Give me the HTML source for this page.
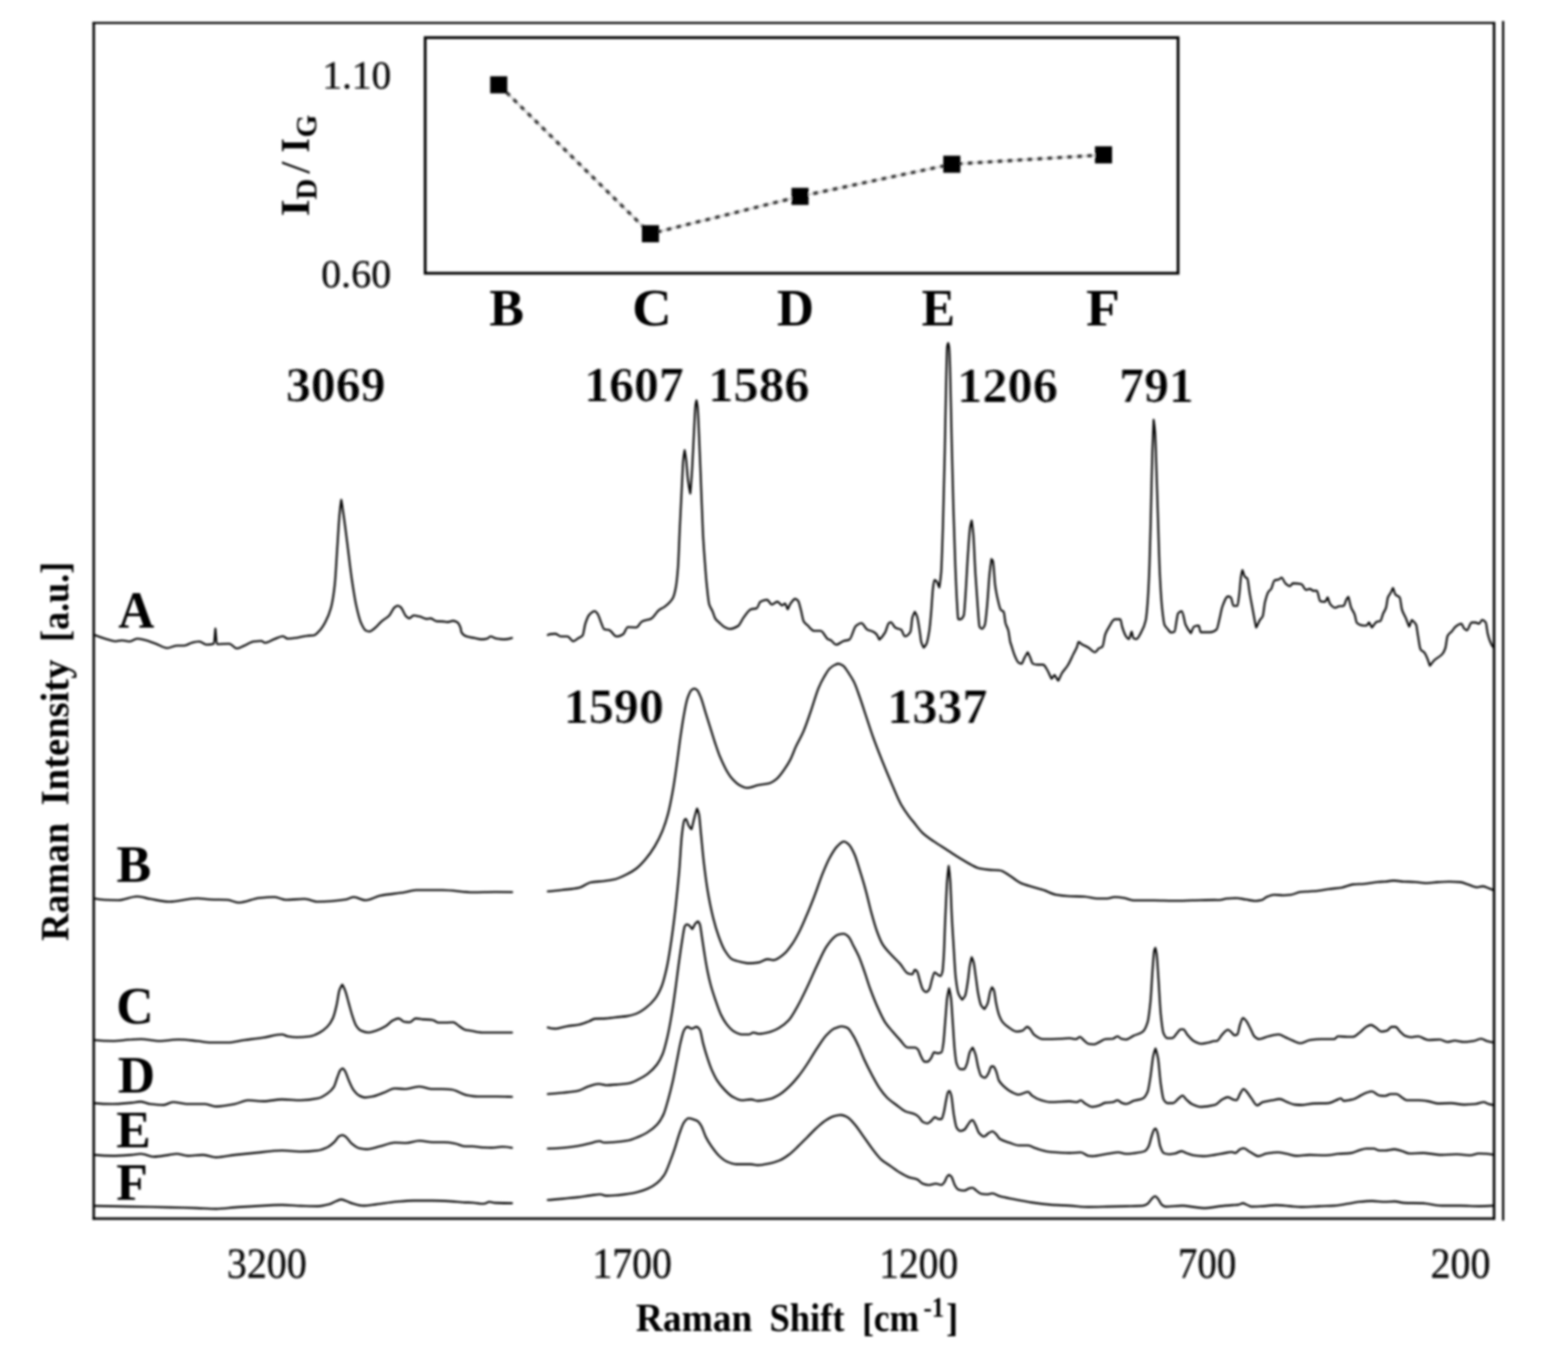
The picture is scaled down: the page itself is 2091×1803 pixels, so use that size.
<!DOCTYPE html>
<html lang="en"><head><meta charset="utf-8"><title>Raman spectra</title>
<style>html,body{margin:0;padding:0;background:#fff}body{width:2091px;height:1803px;overflow:hidden}svg{display:block;font-family:"Liberation Serif","DejaVu Serif",serif}.c{fill:none;stroke:#000;stroke-width:2.6;stroke-linejoin:round;stroke-linecap:round}.ax{fill:none;stroke:#060606}.dt{fill:none;stroke:#3c3c3c;stroke-width:4.4;stroke-dasharray:7.2 6.1}.t{font-weight:bold;fill:#000}.b{font-weight:bold;fill:#000;stroke:#fff;stroke-width:0.2}.n{fill:#111;stroke:#111;stroke-width:0.5}</style></head><body>
<svg width="2091" height="1803" viewBox="0 0 2091 1803" role="img" aria-label="Raman spectra of samples A to F with inset of ID/IG ratio">
<defs><filter id="bl" x="-2%" y="-2%" width="104%" height="104%"><feGaussianBlur stdDeviation="1.35"/></filter></defs>
<rect width="2091" height="1803" fill="#fff"/>
<g filter="url(#bl)">
<g class="ax">
<path d="M125 29.4V1626.8" stroke-width="3.3"/>
<path d="M123.4 30.6H1994" stroke-width="2.8"/>
<path d="M123.4 1625.1H1994" stroke-width="3.3"/>
<path d="M1992.4 29.4V1626.8" stroke-width="3.4"/>
<path d="M2004.5 28V1627.8" stroke="#000" stroke-width="2.9"/>
<rect x="567" y="50.2" width="1004" height="314.2" stroke-width="3.7"/>
</g>
<path d="M665.1 113.1L867.4 311.7L1066.9 261.9L1269.3 219L1471.6 206.5" fill="none" stroke="#ddd" stroke-width="3"/>
<g class="dt">
<path d="M665.1 113.1L867.4 311.7" stroke-dashoffset="-0.6"/>
<path d="M867.4 311.7L1066.9 261.9" stroke-dashoffset="-8.6"/>
<path d="M1066.9 261.9L1269.3 219" stroke-dashoffset="-4.3"/>
<path d="M1269.3 219L1471.6 206.5" stroke-dashoffset="-7.5"/>
</g>
<rect x="653.7" y="101.7" width="22.8" height="22.8" fill="#000"/>
<rect x="856.0" y="300.3" width="22.8" height="22.8" fill="#000"/>
<rect x="1055.5" y="250.5" width="22.8" height="22.8" fill="#000"/>
<rect x="1257.9" y="207.6" width="22.8" height="22.8" fill="#000"/>
<rect x="1460.2" y="195.1" width="22.8" height="22.8" fill="#000"/>
<g class="c">
<path d="M126.1 846.7C130.8 848.6 135.5 850.3 140.2 851.7C144.8 853.1 149.4 855.2 154 855.2C156.9 855.2 159.8 854 162.7 854C166.1 854 169.4 855.5 172.8 855.5C176.1 855.5 179.5 851.7 182.8 851.7C186.2 851.7 189.5 852.7 192.9 853.5C197.9 854.6 202.9 856.7 207.9 858.5C212.9 860.3 218 864.3 223 864.3C227.2 864.3 231.3 861 235.5 861C238.9 861 242.2 861 245.6 861C248.9 861 252.3 858 255.6 857.2C258.9 856.4 262.3 855.5 265.6 855.5C269 855.5 272.3 859.7 275.7 859.7C278.9 859.7 282 859.5 285.2 858.5C285.9 858.3 286.6 843.4 287.2 838.4C287.9 843.6 288.6 859 289.2 859C294.7 859 300.3 858.5 305.8 858.5C309.1 858.5 312.5 864.8 315.8 864.8C319.2 864.8 322.5 862.4 325.9 861C330.1 859.3 334.2 856 338.4 855.5C341.8 855.1 345.1 854.7 348.5 854.7C350.1 854.7 351.8 857.2 353.5 857.2C357.7 857.2 361.8 853.7 366 852.2C369.8 850.9 373.6 848.5 377.3 848.5C379.4 848.5 381.5 851.7 383.6 851.7C387.8 851.7 392 851 396.1 850.5C400.3 849.9 404.5 848.4 408.7 848C412 847.6 415.4 847.7 418.7 847.2C421.2 846.8 423.7 843.6 426.3 840.9C428.8 838.2 431.3 834.3 433.8 829.6C436.3 824.9 438.8 819.9 441.3 810.8C443 804.7 444.7 795.2 446.3 780.7C447.6 769.8 448.8 744.1 450.1 725.5C450.9 713.1 451.8 696.9 452.6 687.8C453.4 678.8 454.3 671.8 455.1 666.5C456 670.6 456.8 677 457.6 682.8C459.3 694.4 461 707.5 462.6 720.5C464.7 736.6 466.8 756.3 468.9 770.7C471 785 473.1 798.9 475.2 808.3C477.3 817.7 479.4 826.3 481.5 830.9C483.6 835.5 485.6 840 487.7 840.9C489.4 841.6 491.1 842.2 492.8 842.2C494.9 842.2 496.9 840 499 838.4C502.4 836 505.7 831.2 509.1 828.4C512.4 825.5 515.8 824.2 519.1 820.8C521.6 818.3 524.1 811.2 526.6 809.6C527.9 808.7 529.2 807.8 530.4 807.8C531.7 807.8 532.9 808.7 534.2 809.6C536.7 811.3 539.2 819.8 541.7 822.1C543 823.2 544.2 824.6 545.5 824.6C547.6 824.6 549.6 820.8 551.7 820.8C554.2 820.8 556.8 821.6 559.3 822.1C562.6 822.8 566 825.4 569.3 825.4C571 825.4 572.7 824.6 574.3 824.6C576.8 824.6 579.3 828.1 581.9 828.4C585.2 828.7 588.5 828.6 591.9 828.9C593.6 829 595.2 829.6 596.9 829.6C599.4 829.6 601.9 827.9 604.4 827.9C606.1 827.9 607.8 828.7 609.5 829.6C611.1 830.6 612.8 832.8 614.5 838.4C614.7 839.1 614.9 842.2 615.1 842.6C617.6 847.4 620.1 848 622.6 848.8C625.9 850 629.3 850.2 632.6 850.8C636 851.5 639.3 852.6 642.7 852.6C645.2 852.6 647.7 852.1 650.2 851.4C651.4 851 652.7 848.8 654 848.8C656.5 848.8 659 850.9 661.5 851.4C665.3 852 669 852.6 672.8 852.6C676.1 852.6 679.5 851.9 682.8 850.8"/>
<path d="M730.5 846.8C733.8 845.1 737.2 845.1 740.5 845.1C743.1 845.1 745.6 848.8 748.1 848.8C751 848.8 753.9 848.8 756.9 848.8C759.4 848.8 761.9 855.1 764.4 855.1C766.5 855.1 768.6 852.6 770.7 851.4C772.7 850.1 774.8 849.9 776.9 847.6C778.2 846.2 779.4 835 780.7 831.3C782.4 826.2 784 821.8 785.7 820C788.2 817.3 790.7 815 793.2 815C794.5 815 795.8 817 797 818.7C798.7 821.1 800.4 827.4 802 831.3C803.3 834.2 804.5 839 805.8 839.3C807.9 839.8 810 839.6 812.1 840.1C815.4 840.7 818.8 848.8 822.1 848.8C825 848.8 828 847.5 830.9 845.8C833 844.6 835.1 836.3 837.2 836.3C840.9 836.3 844.7 836.8 848.5 836.8C851 836.8 853.5 830 856 828.8C860.2 826.7 864.4 827 868.5 825C871.9 823.4 875.2 816.3 878.6 813.7C881.1 811.8 883.6 811.1 886.1 809.2C889.9 806.4 893.6 804.1 897.4 797.4C898.6 795.1 899.9 790.3 901.2 783.6C902.2 778.2 903.2 769.1 904.2 756C905 745 905.8 718.3 906.7 700.8C907.5 683.2 908.4 666.8 909.2 650.6C909.9 637.6 910.5 619.8 911.2 612.9C911.8 606.9 912.4 603.5 913 600.4C913.6 603.5 914.3 607.7 915 612.9C915.8 619.5 916.6 634.1 917.5 640.5C918.5 648.3 919.5 653.7 920.5 658.1C921.3 650 922.2 638.7 923 625.5C923.8 612.3 924.7 590.9 925.5 575.3C926.2 562.8 926.8 545.1 927.5 540.2C927.9 537 928.3 535.4 928.8 533.9C929.3 536.1 929.8 538.3 930.3 542.7C931 549.2 931.8 571.1 932.5 587.8C933.4 606.4 934.2 629.7 935 650.6C935.9 671.5 936.7 697.6 937.5 713.3C938.4 729 939.2 739.8 940.1 751C940.9 762.1 941.7 773.2 942.6 781.1C943.7 791.4 944.7 802.6 945.8 806.2C947.3 810.9 948.7 811.6 950.1 815C951.4 817.9 952.6 823.1 953.9 825C955.5 827.5 957.2 828.5 958.9 830C961.4 832.3 963.9 835 966.4 836.3C968.5 837.4 970.6 838.8 972.7 838.8C976.4 838.8 980.2 837.2 984 835C986.5 833.6 989 827 991.5 823.7C994.9 819.4 998.2 813.4 1001.5 812.5C1004.1 811.7 1006.6 812 1009.1 811.2C1010.7 810.7 1012.4 803.3 1014.1 802.4C1017 800.9 1019.9 799.9 1022.9 799.9C1025 799.9 1027.1 806.2 1029.2 806.2C1031.7 806.2 1034.2 802.4 1036.7 802.4C1038.8 802.4 1040.9 807.4 1043 807.4C1044.2 807.4 1045.5 804.9 1046.7 804.9C1048 804.9 1049.2 810.6 1050.5 812.5C1051.7 810.6 1053 806.6 1054.2 804.9C1056.3 802.1 1058.4 798.6 1060.5 798.6C1061.8 798.6 1063 799.8 1064.3 801.2C1065.5 802.6 1066.8 809.1 1068.1 813.7C1069.3 818.3 1070.6 826.7 1071.8 828.8C1073.5 831.5 1075.2 832.2 1076.8 833.8C1079.8 836.5 1082.7 841.3 1085.6 841.3C1088.5 841.3 1091.5 841.3 1094.4 841.3C1097.7 841.3 1101.1 851.2 1104.4 852.6C1105.5 853.1 1106.5 853.1 1107.5 853.5C1110 854.6 1112.5 859.8 1115.1 859.8C1118.4 859.8 1121.8 855.8 1125.1 854.8C1127.6 854 1130.1 854.1 1132.6 853C1135.6 851.8 1138.5 837 1141.4 834.7C1143.9 832.7 1146.4 831 1148.9 831C1151.4 831 1154 838.4 1156.5 839.7C1159 841 1161.5 841.1 1164 842.3C1165.7 843 1167.3 844.2 1169 846C1170.3 847.4 1171.5 851.3 1172.8 853C1175.3 850.7 1177.8 847.8 1180.3 843.5C1182 840.6 1183.7 832.3 1185.3 831C1186.2 830.3 1187 829.7 1187.8 829.7C1189.9 829.7 1192 836.1 1194.1 837.2C1196.6 838.6 1199.1 838.3 1201.6 839.7C1203.3 840.7 1205 848.5 1206.7 848.5C1209.2 848.5 1211.7 846.6 1214.2 842.3C1215 840.8 1215.9 826.5 1216.7 823.4C1217.8 819.5 1218.9 817.8 1220 815.9C1221 817.5 1222 819.2 1223 822.2C1224.2 825.9 1225.5 835.5 1226.7 843.5C1227.3 847.3 1227.9 853.9 1228.5 856.1C1229.6 860.1 1230.7 861.7 1231.8 863.6C1233 862.3 1234.3 861.2 1235.5 858.6C1236.8 856 1238 849.2 1239.3 841C1240.1 835.5 1241 825.4 1241.8 815.9C1242.6 806.4 1243.5 789.2 1244.3 783.3C1245 778.5 1245.6 773.2 1246.3 773.2C1247.3 773.2 1248.3 774.5 1249.3 775.7C1250.4 777.1 1251.5 781.4 1252.6 783.3C1253.4 778.3 1254.3 773.6 1255.1 763.2C1255.8 753.8 1256.6 727 1257.4 703C1258.2 676.3 1259 639.9 1259.9 602.6C1260.5 572.7 1261.2 527.9 1261.9 502.2C1262.3 486.1 1262.7 464.7 1263.1 462C1263.5 459.3 1264 458.7 1264.4 457.5C1264.8 458.7 1265.2 459.5 1265.6 462C1266.1 464.6 1266.5 477.7 1266.9 489.6C1267.6 508.8 1268.2 549.5 1268.9 577.5C1269.7 612.5 1270.6 649.2 1271.4 677.9C1272.2 706.6 1273.1 731.9 1273.9 753.2C1274.7 772.3 1275.4 791.2 1276.2 803.4C1276.8 812.8 1277.3 825.9 1277.9 825.9C1278.9 825.9 1279.8 825.9 1280.7 825.9C1282.2 825.9 1283.7 824.2 1285.2 820.9C1286 819.1 1286.9 802.4 1287.7 790.8C1288.7 776.9 1289.7 755 1290.7 740.6C1291.7 726.3 1292.7 709.3 1293.7 703C1294.4 698.8 1295.1 696.4 1295.8 694.2C1296.4 698.3 1297.1 703.1 1297.8 710.5C1298.8 721.5 1299.8 749.7 1300.8 765.7C1301.8 781.8 1302.8 796 1303.8 808.4C1304.6 818.7 1305.5 834.7 1306.3 836C1307.4 837.6 1308.5 838.5 1309.6 838.5C1310.8 838.5 1312.1 836.4 1313.3 833.5C1314.3 831.1 1315.3 818.6 1316.3 808.4C1317.4 797.3 1318.5 776.4 1319.6 765.7C1320.4 757.5 1321.3 750.6 1322.1 745.6C1322.8 746.3 1323.4 746.7 1324.1 748.1C1325.1 750.3 1326.1 773.5 1327.1 780.8C1328.4 789.8 1329.6 795.7 1330.9 800.8C1332.1 806 1333.4 812 1334.7 813.4C1335.9 814.8 1337.2 814.3 1338.4 815.9C1339.3 817 1340.1 827.8 1340.9 831C1342.2 835.7 1343.4 836.2 1344.7 841C1345.5 844.2 1346.4 852.7 1347.2 856.1C1347.6 857.7 1348 858.7 1348.5 860C1350.1 865.2 1351.8 871.4 1353.5 875.1C1355.1 878.8 1356.8 882.9 1358.5 883.8C1359.7 884.5 1361 885.1 1362.3 885.1C1363.5 885.1 1364.8 879.9 1366 877.6C1367.5 874.8 1369 871.9 1370.5 870C1371.5 871.6 1372.5 874.1 1373.6 876.3C1374.8 879.1 1376.1 884.6 1377.3 885.1C1379.4 885.9 1381.5 886.4 1383.6 886.4C1386.1 886.4 1388.6 886.4 1391.1 886.4C1392.8 886.4 1394.5 890.1 1396.1 892.6C1398.2 895.8 1400.3 902 1402.4 905.2C1403.7 903.9 1404.9 901.4 1406.2 900.2C1407.9 902 1409.5 905.8 1411.2 907.7C1412.9 905.2 1414.5 900.4 1416.2 897.6C1418.7 893.6 1421.2 891.6 1423.7 887.6C1426.3 883.6 1428.8 877.6 1431.3 872.5C1432.9 869.2 1434.6 866.8 1436.3 862.5C1437 860.8 1437.6 856.1 1438.3 856.1C1439.7 856.1 1441.1 858.2 1442.6 859.1C1445.5 860.8 1448.4 861.8 1451.4 863.6C1454.3 865.3 1457.2 869.9 1460.1 869.9C1461.8 869.9 1463.5 866 1465.2 864.8C1466.8 863.7 1468.5 863.9 1470.2 862.3C1471.4 861.2 1472.7 849.5 1473.9 846C1475.6 841.4 1477.3 838.7 1479 836C1481.5 831.9 1484 825.9 1486.5 825.9C1489 825.9 1491.5 825.9 1494 825.9C1494.9 825.9 1495.7 833.3 1496.5 836C1498.2 841.3 1499.9 846.2 1501.5 848.5C1502.8 850.3 1504.1 852.3 1505.3 852.3C1506.6 852.3 1507.8 844.8 1509.1 842.3C1509.9 844.4 1510.7 850.5 1511.6 851C1512.8 851.8 1514.1 852.3 1515.3 852.3C1517.4 852.3 1519.5 847.3 1521.6 843.5C1523.7 839.7 1525.8 836.5 1527.9 827.2C1528.7 823.5 1529.6 814.1 1530.4 803.4C1531.2 792.6 1532.1 775.2 1532.9 753.2C1533.6 735.5 1534.3 704.7 1534.9 677.9C1535.5 654.4 1536.1 620.7 1536.7 602.6C1537.3 584.4 1537.9 570.6 1538.4 559.9C1539.1 564.3 1539.8 568.4 1540.4 577.5C1541 585.4 1541.6 610.2 1542.2 627.7C1542.9 647.6 1543.5 669.9 1544.2 690.4C1545 716 1545.9 748.8 1546.7 765.7C1547.7 786 1548.7 801.3 1549.7 810.9C1550.8 821.2 1551.9 831 1553 833.5C1554.2 836.3 1555.5 837 1556.8 838.5C1558.4 840.4 1560.1 843.5 1561.8 843.5C1563.3 843.5 1564.8 843.1 1566.3 842.3C1567.3 841.7 1568.3 830.9 1569.3 825.9C1569.9 823.1 1570.4 818.7 1571 818C1572.7 816 1574.3 815 1576 815C1577.7 815 1579.4 829.3 1581 833.1C1583.4 838.4 1585.7 841.6 1588.1 844.4C1589.5 842.2 1590.9 836.1 1592.3 835.6C1594.4 834.8 1596.5 834.3 1598.6 834.3C1599.4 834.3 1600.3 843.1 1601.1 843.1C1605.3 843.1 1609.5 843.1 1613.7 843.1C1616.6 843.1 1619.5 841.9 1622.4 839.4C1623.7 838.3 1625 830.5 1626.2 825.6C1627.5 820.6 1628.7 812.6 1630 809.2C1632.5 802.5 1635 795.4 1637.5 795.4C1638.8 795.4 1640 795.9 1641.3 796.7C1642.5 797.4 1643.8 808 1645 808C1646.7 808 1648.4 808 1650.1 808C1650.9 808 1651.7 799.2 1652.6 792.9C1653.4 786.7 1654.2 772.7 1655.1 767.8C1655.7 764.4 1656.2 762.2 1656.8 760.3C1657.9 762.5 1659 767.8 1660.1 769.1C1661.2 770.4 1662.3 770.1 1663.4 771.6C1664.4 773 1665.4 784.6 1666.4 790.4C1667.6 797.7 1668.9 803.9 1670.1 810.5C1671.8 819.4 1673.5 830.3 1675.2 836.8C1676.8 834.3 1678.5 829.5 1680.2 826.8C1681.4 824.8 1682.7 824.6 1683.9 821.8C1684.9 819.5 1685.9 807.2 1686.9 803C1688.5 796.6 1690 791.4 1691.5 789.2C1692.7 787.3 1694 787.2 1695.2 785.4C1696.6 783.4 1698.1 774.7 1699.5 774.1C1701.4 773.3 1703.3 773.5 1705.3 772.8C1706.5 772.4 1707.8 770.3 1709 770.3C1710.7 770.3 1712.4 776.4 1714.1 777.9C1716.1 779.7 1718.2 781.6 1720.3 781.6C1721.6 781.6 1722.8 777.9 1724.1 777.9C1727.9 777.9 1731.6 778.3 1735.4 779.1C1737.5 779.6 1739.6 786.7 1741.7 786.7C1743.3 786.7 1745 785.4 1746.7 785.4C1748.3 785.4 1750 787.9 1751.7 787.9C1753.2 787.9 1754.7 787.9 1756.2 787.9C1757.6 787.9 1759.1 801.4 1760.5 801.7C1762.6 802.2 1764.7 802.5 1766.8 802.5C1768 802.5 1769.3 798.1 1770.5 796.7C1771.6 798.9 1772.7 804.1 1773.8 805.5C1776 808.3 1778.3 810.5 1780.6 810.5C1782.2 810.5 1783.9 808.7 1785.6 808.5C1787.7 808.2 1789.8 808.3 1791.8 808C1793.1 807.8 1794.4 801.3 1795.6 799.2C1796.5 797.8 1797.3 796.8 1798.1 795.9C1799.4 799.6 1800.6 807.2 1801.9 810.5C1803.4 814.4 1804.9 815.3 1806.4 819.3C1807.4 821.9 1808.4 829.7 1809.4 830.6C1812.3 833.2 1815.3 834.3 1818.2 834.3C1819.5 834.3 1820.7 834.3 1822 834.3C1823.2 834.3 1824.5 831.1 1825.7 830.1C1827 831.8 1828.2 835.2 1829.5 836.8C1831.6 835 1833.7 830.2 1835.8 829.3C1837.4 828.6 1839.1 828.9 1840.8 828.1C1842 827.5 1843.3 820.9 1844.6 818C1845.8 815.2 1847.1 814.3 1848.3 810.5C1849.2 808 1850 798.9 1850.8 796.7C1852.1 793.4 1853.3 792.8 1854.6 790.4C1855.6 788.6 1856.6 785.7 1857.6 784.1C1858.7 786.3 1859.8 791.7 1860.9 792.9C1862.8 795.1 1864.7 794.3 1866.6 796.7C1867.6 798 1868.6 809.7 1869.6 813C1871.3 818.5 1873 820.3 1874.7 824.3C1876.2 827.9 1877.7 832.8 1879.2 835.6C1880.4 833.4 1881.5 829 1882.7 826.8C1884.6 828.4 1886.5 829.2 1888.5 833.1C1889.3 834.8 1890.1 843.4 1891 848.1C1892.1 854.3 1893.2 863.9 1894.2 865.7C1896.1 868.8 1897.9 868.4 1899.8 870.7C1901 872.3 1902.3 875.3 1903.5 878.3C1904.6 880.8 1905.7 885.4 1906.8 887.8C1908.6 886 1910.5 882.6 1912.3 880.8C1916.1 877 1919.8 876.5 1923.6 872C1924.9 870.5 1926.1 868.2 1927.4 864.5C1928.4 861.5 1929.4 850.1 1930.4 848.1C1932.3 844.4 1934.2 844.1 1936.2 841.9C1937.8 839.9 1939.5 836.8 1941.2 835.6C1943.7 833.7 1946.2 831.8 1948.7 831.8C1950 831.8 1951.2 836.9 1952.5 838.1C1953.7 839.3 1955 840.6 1956.2 840.6C1958.3 840.6 1960.4 830.1 1962.5 830.1C1964.2 830.1 1965.9 830.1 1967.5 830.1C1969.2 830.1 1970.9 831.8 1972.5 831.8C1973.8 831.8 1975.1 826.8 1976.3 826.8C1978 826.8 1979.7 827.9 1981.3 830.1C1982.2 831.1 1983 840.7 1983.8 844.4C1984.7 848 1985.5 851 1986.3 853.2C1988 857.6 1989.7 861.5 1991.4 863.2"/>
<path d="M126.1 1198.3C136.6 1200.5 147.2 1200.5 157.7 1200.5C166.1 1200.5 174.5 1195.5 182.8 1195.5C188.7 1195.5 194.5 1197.8 200.4 1198.8C208.8 1200.2 217.1 1202.5 225.5 1202.5C238 1202.5 250.6 1198 263.1 1198C269 1198 274.8 1199.3 280.7 1199.5C288.2 1199.8 295.8 1199.7 303.3 1200C308.3 1200.3 313.3 1203.8 318.3 1203.8C327.5 1203.8 336.7 1198.4 345.9 1197.5C352.6 1196.9 359.3 1196.3 366 1196.3C371 1196.3 376.1 1200 381.1 1200C389.4 1200 397.8 1198.8 406.2 1198.8C412 1198.8 417.9 1202.5 423.7 1202.5C436.3 1202.5 448.8 1201.4 461.4 1199.5C464.7 1199.1 468.1 1196.3 471.4 1196.3C476.9 1196.3 482.3 1200.5 487.7 1200.5C494 1200.5 500.3 1195.8 506.6 1194.5C517.4 1192.3 528.3 1191.8 539.2 1190C544.5 1189.1 549.7 1187 555 1187C566.9 1187 578.7 1187 590.6 1187C604.1 1187 617.5 1190 631 1190C640.7 1190 650.3 1189.5 660 1189.5C667.7 1189.5 675.3 1189.5 683 1189.7"/>
<path d="M730.6 1188.8C737.1 1188.2 743.7 1187.5 750.2 1186.8C757.7 1185.9 765.3 1185.4 772.8 1183.7C777.8 1182.7 782.8 1177.6 787.8 1176.7C793.7 1175.7 799.5 1175.7 805.4 1175C810.4 1174.3 815.4 1173.6 820.5 1172.5C825.5 1171.3 830.5 1168.7 835.5 1166.2C839.7 1164.1 843.9 1161.8 848.1 1158.6C852.3 1155.5 856.4 1151 860.6 1146.1C864.8 1141.2 869 1135.5 873.2 1128.5C876.5 1123 879.9 1116.6 883.2 1108.5C885.7 1102.4 888.2 1095.2 890.7 1085.9C892.8 1078.1 894.9 1067.4 897 1055.8C898.7 1046.5 900.4 1034.8 902 1023.1C903.7 1011.5 905.4 997.1 907 985.5C908.7 973.8 910.4 961.8 912.1 952.9C913.7 944 915.4 934.9 917.1 930.3C918.8 925.6 920.4 921.6 922.1 920.2C923.4 919.2 924.6 918.2 925.9 918.2C927.1 918.2 928.4 919.2 929.6 920.2C931.3 921.6 933 926.2 934.7 930.3C936.7 935.4 938.8 943.7 940.9 950.3C943 957 945.1 963.7 947.2 970.4C949.3 977.1 951.4 984.3 953.5 990.5C955.6 996.7 957.7 1003 959.7 1008.1C962.7 1015.2 965.6 1021.7 968.5 1026.9C971 1031.3 973.6 1035.4 976.1 1038.2C979.4 1041.9 982.8 1045.2 986.1 1047C989.4 1048.7 992.8 1050.7 996.1 1050.7C1001.2 1050.7 1006.2 1048 1011.2 1047C1016.2 1046 1021.2 1045.8 1026.3 1044.5C1029.6 1043.5 1032.9 1041 1036.3 1038.2C1039.6 1035.4 1043 1030.5 1046.3 1025.6C1048.8 1022 1051.4 1018 1053.9 1013.1C1056.4 1008.2 1058.9 1000.9 1061.4 995.5C1064.7 988.3 1068.1 983.2 1071.4 975.4C1074.8 967.7 1078.1 957.4 1081.5 947.8C1084.8 938.2 1088.2 925.7 1091.5 917.7C1094 911.8 1096.5 907 1099 902.7C1101.5 898.4 1104.1 893.7 1106.6 891.4C1109.1 889.1 1111.6 887.4 1114.1 886.4C1115.3 885.8 1116.6 885.1 1117.9 885.1C1119.9 885.1 1122 886.3 1124.1 887.6C1126.6 889.1 1129.2 893.9 1131.7 897.6C1134.2 901.4 1136.7 905 1139.2 910.2C1141.7 915.3 1144.2 923.2 1146.7 930.3C1149.2 937.4 1151.7 945.3 1154.2 952.9C1157.6 962.9 1160.9 973.6 1164.3 983C1168.5 994.7 1172.7 1005.2 1176.8 1015.6C1181 1026 1185.2 1036.1 1189.4 1045.7C1193.6 1055.3 1197.7 1065.9 1201.9 1073.3C1205.3 1079.2 1208.6 1083.8 1212 1088.4C1214 1091.1 1216 1093.5 1218 1095.9C1222.1 1101.1 1226.3 1107.1 1230.5 1111C1235.5 1115.6 1240.5 1118.8 1245.6 1122.3C1251.4 1126.3 1257.3 1129.8 1263.1 1133.6C1269 1137.3 1274.8 1141.3 1280.7 1144.8C1285.7 1147.9 1290.7 1151.1 1295.8 1153.6C1299.1 1155.3 1302.4 1157.4 1305.8 1158.1C1310 1159.1 1314.2 1159.6 1318.3 1159.9C1323.4 1160.3 1328.4 1160.2 1333.4 1160.7C1337.6 1161 1341.8 1164.9 1345.9 1167.4C1351 1170.4 1356 1175.2 1361 1177.5C1366 1179.7 1371 1181 1376.1 1182.5C1381.1 1184 1386.1 1185.1 1391.1 1186.8C1397 1188.6 1402.8 1192.3 1408.7 1193.3C1413.7 1194.2 1418.7 1194.8 1423.7 1195C1431.3 1195.4 1438.8 1195.4 1446.3 1195.8C1452.2 1196.1 1458 1198.3 1463.9 1198.3C1468.1 1198.3 1472.3 1198.3 1476.4 1198.3C1479.8 1198.3 1483.1 1196.3 1486.5 1196.3C1490.7 1196.3 1494.9 1196.9 1499 1197.5C1503.2 1198.2 1507.4 1200.8 1511.6 1200.8C1520.8 1200.8 1530 1200.8 1539.2 1200.8C1547.6 1200.8 1555.9 1201.3 1564.3 1201.3C1572.7 1201.3 1581 1201 1589.4 1200.8C1599.6 1200.6 1609.8 1200.1 1620 1200.1C1622.1 1200.1 1624.1 1200.3 1626.2 1200.3C1629.6 1200.3 1632.9 1198.5 1636.3 1198.3C1640.4 1198 1644.6 1197.8 1648.8 1197.8C1653 1197.8 1657.2 1198.9 1661.3 1199.5C1665.5 1200.1 1669.7 1201.5 1673.9 1201.5C1676.8 1201.5 1679.8 1201 1682.7 1200.3C1684.8 1199.8 1686.9 1197.1 1689 1196.3C1692.3 1194.8 1695.6 1193.2 1699 1193.2C1703.2 1193.2 1707.4 1194 1711.5 1194C1714.9 1194 1718.2 1193.6 1721.6 1193.2C1725.8 1192.8 1729.9 1189.9 1734.1 1189.5C1738.3 1189.1 1742.5 1189 1746.7 1188.7C1750.9 1188.4 1755 1188.2 1759.2 1187.7C1763.4 1187.3 1767.6 1186.3 1771.8 1185.7C1777.6 1184.9 1783.5 1184.7 1789.3 1183.7C1794.4 1182.9 1799.4 1179.9 1804.4 1179.4C1809.4 1179 1814.4 1179.1 1819.5 1178.7C1825.3 1178.3 1831.2 1176.6 1837 1176.2C1840.4 1175.9 1843.7 1175.9 1847.1 1175.7C1850.8 1175.4 1854.6 1174.4 1858.4 1174.4C1863 1174.4 1867.6 1175.4 1872.2 1175.7C1877.2 1175.9 1882.2 1175.9 1887.2 1176.2C1892.2 1176.4 1897.3 1177.7 1902.3 1177.7C1907.3 1177.7 1912.3 1176.7 1917.3 1176.4C1922.4 1176.1 1927.4 1175.7 1932.4 1175.7C1937.4 1175.7 1942.4 1176 1947.4 1176.4C1950.8 1176.7 1954.1 1178.4 1957.5 1179.4C1961.7 1180.7 1965.9 1183.2 1970 1183.2C1972.5 1183.2 1975.1 1181.9 1977.6 1181.9C1980.1 1181.9 1982.6 1183.5 1985.1 1184.5C1987.2 1185.2 1989.3 1186.1 1991.4 1187"/>
<path d="M126.1 1387C134.1 1387.9 142.2 1388.3 150.2 1388.3C158.6 1388.3 166.9 1386.7 175.3 1386.3C179.5 1386 183.7 1385.8 187.8 1385.8C196.2 1385.8 204.6 1388.3 212.9 1388.3C221.3 1388.3 229.7 1386.3 238 1386.3C246.4 1386.3 254.8 1387.5 263.1 1388.3C269 1388.8 274.8 1390.3 280.7 1390.3C288.2 1390.3 295.8 1390.3 303.3 1390.3C310.8 1390.3 318.3 1388 325.9 1387C334.2 1385.9 342.6 1385 351 1383.7C359.3 1382.5 367.7 1379.5 376.1 1379.5C378.6 1379.5 381.1 1381.6 383.6 1382C387.8 1382.7 392 1383.2 396.1 1383.2C402 1383.2 407.9 1382.7 413.7 1382C417.9 1381.5 422.1 1379.2 426.3 1377C429.6 1375.2 432.9 1372.8 436.3 1369.4C438.8 1366.9 441.3 1363.6 443.8 1358.1C445.5 1354.5 447.2 1347.7 448.8 1340.6C450.1 1335.2 451.4 1324.2 452.6 1320.5C453.9 1316.9 455.1 1314.9 456.4 1313C457.6 1314.9 458.9 1317.3 460.1 1320.5C461.8 1324.7 463.5 1332.2 465.2 1338.1C466.8 1343.9 468.5 1350.8 470.2 1355.6C471.8 1360.5 473.5 1365.8 475.2 1368.2C477.3 1371.2 479.4 1373.6 481.5 1374.5C484.8 1375.9 488.2 1377 491.5 1377C494.9 1377 498.2 1375.5 501.5 1374.5C505.7 1373.1 509.9 1371.2 514.1 1368.7C517.4 1366.7 520.8 1362.2 524.1 1360.7C526.6 1359.5 529.2 1358.1 531.7 1358.1C534.2 1358.1 536.7 1362.4 539.2 1362.7C541.7 1363 544.2 1363.2 546.7 1363.2C549.2 1363.2 551.7 1358.1 554.2 1358.1C557.6 1358.1 560.9 1359.1 564.3 1359.4C568.5 1359.7 572.7 1359.7 576.8 1360.2C579.3 1360.4 581.9 1363.7 584.4 1363.7C587.7 1363.7 591.1 1363.7 594.4 1363.7C597.7 1363.7 601.1 1363.2 604.4 1363.2C606.9 1363.2 609.5 1366.6 612 1368.2C614.6 1369.9 617.3 1372.5 620 1373.2C622.5 1373.9 625.1 1374 627.6 1374.5C632.6 1375.3 637.6 1377 642.7 1377C649.4 1377 656 1377 662.7 1377C669.4 1377 676.1 1377 682.8 1377"/>
<path d="M730.5 1370.2C733.8 1371.3 737.2 1371.9 740.5 1371.9C745.6 1371.9 750.6 1369.6 755.6 1368.7C761.5 1367.7 767.3 1367.4 773.2 1366.2C777.3 1365.3 781.5 1363.5 785.7 1361.9C788.2 1360.9 790.7 1358.8 793.2 1358.6C798.3 1358.3 803.3 1358.4 808.3 1358.1C814.2 1357.8 820 1356.8 825.9 1356.1C829.2 1355.8 832.6 1355.6 835.9 1355.1C840.1 1354.5 844.3 1353.4 848.5 1351.9C852.6 1350.4 856.8 1347.5 861 1344.3C865.2 1341.2 869.4 1337.3 873.6 1331.8C876.5 1327.9 879.4 1322.8 882.3 1315.5C884.4 1310.3 886.5 1302.1 888.6 1292.9C890.3 1285.6 892 1275.8 893.6 1265.3C896 1250.3 898.4 1232 900.8 1211.4C902.4 1196.8 904.1 1180.4 905.8 1161.2C907 1146.7 908.3 1120.5 909.6 1111C910.6 1102.7 911.7 1094.7 912.8 1093.4C913.4 1092.7 914 1092.1 914.6 1092.1C915.8 1092.1 917.1 1098.8 918.3 1100.9C919.6 1103.1 920.8 1104.7 922.1 1105.9C923.4 1102.2 924.6 1095.5 925.9 1090.9C927.1 1086.3 928.4 1081.5 929.6 1078.3C930.5 1080.2 931.3 1082 932.1 1085.9C933 1089.7 933.8 1102.6 934.7 1111C935.9 1123.5 937.2 1137.8 938.4 1148.6C940.1 1163 941.8 1176.1 943.4 1186.3C945.9 1201.5 948.5 1213.9 951 1223.9C953.5 1233.9 956 1242.1 958.5 1249C961 1255.9 963.5 1262.4 966 1266.6C969.4 1272.1 972.7 1277.5 976.1 1279.1C980.2 1281.2 984.4 1282 988.6 1282.9C992 1283.6 995.3 1284.6 998.6 1284.6C1002.8 1284.6 1007 1284.2 1011.2 1283.6C1015.4 1283.1 1019.6 1279.1 1023.7 1279.1C1026.3 1279.1 1028.8 1280.4 1031.3 1280.4C1036.3 1280.4 1041.3 1275.7 1046.3 1271.6C1049.7 1268.9 1053 1263.9 1056.4 1259C1059.7 1254.2 1063.1 1248.1 1066.4 1241.5C1069.8 1234.9 1073.1 1226.8 1076.4 1218.9C1079.8 1211 1083.1 1202.5 1086.5 1193.8C1089.8 1185 1093.2 1174.5 1096.5 1166.2C1099.9 1157.9 1103.2 1149.6 1106.6 1143.6C1109.9 1137.6 1113.3 1131.7 1116.6 1128.5C1119.5 1125.7 1122.5 1122.3 1125.4 1122.3C1127.5 1122.3 1129.6 1124.2 1131.7 1126C1134.2 1128.2 1136.7 1133.2 1139.2 1138.6C1141.7 1143.9 1144.2 1153.2 1146.7 1161.2C1149.2 1169.1 1151.7 1177.1 1154.2 1186.3C1156.8 1195.4 1159.3 1207.2 1161.8 1216.4C1164.3 1225.5 1166.8 1234.6 1169.3 1241.5C1171.8 1248.4 1174.3 1254.9 1176.8 1259C1181 1265.8 1185.2 1269.5 1189.4 1274.1C1193.1 1278.1 1196.7 1281.2 1200.4 1285.4C1203.7 1289.1 1207.1 1296.8 1210.4 1297.9C1212.5 1298.6 1214.6 1299.2 1216.7 1299.2C1217.8 1299.2 1218.9 1293.4 1220 1293.4C1221 1293.4 1222 1294.3 1223 1295.4C1224.2 1296.8 1225.5 1304 1226.7 1308C1228 1311.9 1229.2 1317.6 1230.5 1319.2C1232 1321.2 1233.5 1323 1235 1323C1236.4 1323 1237.9 1321.3 1239.3 1319.2C1240.5 1317.4 1241.8 1309.3 1243.1 1305.4C1244.1 1302.1 1245.2 1296.7 1246.3 1296.7C1247.7 1296.7 1249.2 1299.1 1250.6 1299.9C1251.8 1300.6 1253.1 1301.7 1254.3 1301.7C1255.2 1301.7 1256 1299 1256.9 1295.4C1257.4 1292.9 1258 1283.6 1258.6 1274.1C1259.3 1263.2 1259.9 1238.8 1260.6 1223.9C1261.5 1205.2 1262.3 1184.2 1263.1 1173.7C1263.8 1165.3 1264.5 1159.6 1265.1 1154.9C1265.8 1159.6 1266.5 1165 1267.1 1173.7C1267.9 1183.6 1268.6 1209.6 1269.4 1223.9C1270.2 1239.8 1271.1 1252.1 1271.9 1265.3C1272.7 1278.4 1273.6 1295.6 1274.4 1302.9C1275.7 1314 1276.9 1322.4 1278.2 1325.5C1279.9 1329.7 1281.5 1331.2 1283.2 1333.1C1284.5 1331.8 1285.7 1330.7 1287 1328C1288.2 1325.4 1289.5 1316.1 1290.7 1308C1291.6 1302.5 1292.4 1292.7 1293.2 1287.9C1294.1 1283.1 1294.9 1279.4 1295.8 1276.6C1296.6 1278.2 1297.4 1279.9 1298.3 1282.9C1299.3 1286.5 1300.3 1296.1 1301.3 1302.9C1302.4 1310.3 1303.4 1320 1304.5 1325.5C1305.8 1331.9 1307 1338.4 1308.3 1340.6C1309.8 1343.2 1311.3 1344.3 1312.8 1345.6C1314.2 1343.7 1315.7 1341.8 1317.1 1338.1C1318.2 1335.2 1319.3 1326.5 1320.3 1323C1321.2 1320.3 1322 1318.3 1322.9 1316.7C1323.7 1317.7 1324.5 1318.5 1325.4 1320.5C1326.4 1322.9 1327.4 1333.3 1328.4 1338.1C1329.6 1344.1 1330.9 1349.7 1332.1 1353.1C1333.8 1357.7 1335.5 1361.1 1337.2 1363.2C1340.1 1366.8 1343 1368.8 1345.9 1370.7C1349.3 1372.8 1352.6 1375.7 1356 1375.7C1358.5 1375.7 1361 1375.2 1363.5 1374.5C1365.6 1373.9 1367.7 1369.4 1369.8 1369.4C1371 1369.4 1372.3 1370.8 1373.6 1371.9C1375.2 1373.5 1376.9 1378.1 1378.6 1379.5C1382.8 1382.9 1386.9 1385.8 1391.1 1385.8C1398.6 1385.8 1406.2 1385.5 1413.7 1385.3C1417.9 1385.1 1422.1 1384.5 1426.3 1384.5C1429.2 1384.5 1432.1 1385.8 1435 1385.8C1436.7 1385.8 1438.4 1382.7 1440.1 1382.7C1441.7 1382.7 1443.4 1385.6 1445.1 1387C1447.2 1388.7 1449.3 1391.6 1451.4 1392C1453.9 1392.5 1456.4 1392.8 1458.9 1392.8C1461.4 1392.8 1463.9 1390.7 1466.4 1389.5C1468.9 1388.4 1471.4 1386 1473.9 1385.8C1477.3 1385.4 1480.6 1385.6 1484 1385.3C1486.1 1385 1488.2 1382 1490.3 1382C1491.9 1382 1493.6 1384.8 1495.3 1385.3C1497.4 1385.8 1499.5 1386.3 1501.5 1386.3C1504.9 1386.3 1508.2 1382.8 1511.6 1381.2C1515.8 1379.3 1519.9 1379 1524.1 1375.7C1526.2 1374.1 1528.3 1370.1 1530.4 1363.2C1531.7 1359 1532.9 1348.1 1534.2 1335.6C1535.2 1325.5 1536.2 1303.2 1537.2 1290.4C1537.9 1281.9 1538.5 1270.5 1539.2 1267.8C1539.7 1265.8 1540.2 1265 1540.7 1264C1541.3 1266.2 1541.9 1268.6 1542.5 1272.8C1543.2 1278.2 1544 1292.2 1544.7 1302.9C1545.8 1318.4 1546.9 1342.9 1548 1353.1C1549.2 1364.9 1550.5 1375.5 1551.7 1378.2C1553.4 1381.9 1555.1 1384.5 1556.8 1384.5C1558.8 1384.5 1560.9 1384.5 1563 1384.5C1565.1 1384.5 1567.2 1380.4 1569.3 1378.2C1571 1376.5 1572.7 1372.7 1574.3 1372.7C1575.6 1372.7 1576.8 1372.7 1578.1 1372.7C1579.8 1372.7 1581.4 1377.5 1583.1 1379.5C1586 1382.9 1589 1386.6 1591.9 1388.3C1595.2 1390.1 1598.6 1392 1601.9 1392C1605.3 1392 1608.6 1391 1612 1390.3C1614.6 1389.7 1617.3 1388.3 1620 1388.3C1620.8 1388.3 1621.6 1388.3 1622.4 1388.3C1625 1388.3 1627.5 1381.9 1630 1379.5C1632.5 1377 1635 1373.2 1637.5 1373.2C1639.2 1373.2 1640.9 1375.5 1642.5 1377C1643.8 1378.1 1645 1380.7 1646.3 1380.7C1647.5 1380.7 1648.8 1380.2 1650.1 1379.5C1651.3 1378.7 1652.6 1369.1 1653.8 1365.7C1655.1 1362.3 1656.3 1357.6 1657.6 1357.6C1658.8 1357.6 1660.1 1359.3 1661.3 1360.7C1663.4 1362.9 1665.5 1368 1667.6 1371.9C1669.3 1375.1 1671 1380.4 1672.6 1382C1674.7 1384 1676.8 1385.8 1678.9 1385.8C1683.1 1385.8 1687.3 1382.9 1691.5 1382C1696.1 1380.9 1700.7 1379.5 1705.3 1379.5C1708.2 1379.5 1711.1 1382 1714.1 1383.2C1717.4 1384.7 1720.7 1386.4 1724.1 1387.8C1727.4 1389.1 1730.8 1391.3 1734.1 1391.3C1738.3 1391.3 1742.5 1387.6 1746.7 1387C1751.7 1386.3 1756.7 1385.8 1761.7 1385.8C1767.6 1385.8 1773.4 1385.8 1779.3 1385.8C1781 1385.8 1782.6 1382 1784.3 1382C1788.5 1382 1792.7 1382.7 1796.9 1382.7C1799.4 1382.7 1801.9 1382.7 1804.4 1382.7C1807.3 1382.7 1810.3 1379.1 1813.2 1377C1816.1 1374.8 1819 1371 1822 1369.4C1824.1 1368.3 1826.1 1366.9 1828.2 1366.9C1830.3 1366.9 1832.4 1368.9 1834.5 1370.2C1837 1371.7 1839.5 1375.7 1842 1375.7C1844.6 1375.7 1847.1 1375.2 1849.6 1374.5C1851.7 1373.9 1853.8 1369.4 1855.8 1369.4C1857.5 1369.4 1859.2 1369.4 1860.9 1369.4C1863 1369.4 1865 1373.8 1867.1 1375.7C1869.2 1377.7 1871.3 1380.5 1873.4 1381.2C1876.3 1382.3 1879.3 1383.2 1882.2 1383.2C1885.1 1383.2 1888.1 1382 1891 1382C1895.6 1382 1900.2 1387 1904.8 1387C1909.8 1387 1914.8 1386.3 1919.8 1386.3C1923.2 1386.3 1926.5 1389.5 1929.9 1389.5C1933.2 1389.5 1936.6 1387.8 1939.9 1387.8C1944.1 1387.8 1948.3 1389.5 1952.5 1389.5C1956.6 1389.5 1960.8 1388.9 1965 1388.3C1968.4 1387.8 1971.7 1385.3 1975.1 1385.3C1977.6 1385.3 1980.1 1387.5 1982.6 1388.3C1985.5 1389.1 1988.4 1389.9 1991.4 1390.3"/>
<path d="M126.1 1471.1C134.1 1472 142.2 1472.3 150.2 1472.3C158.6 1472.3 166.9 1471.3 175.3 1470.6C179.5 1470.2 183.7 1469.1 187.8 1469.1C192 1469.1 196.2 1471.9 200.4 1472.3C206.2 1473 212.1 1473.6 218 1473.6C222.1 1473.6 226.3 1469.8 230.5 1469.8C237.2 1469.8 243.9 1472.3 250.6 1472.3C258.1 1472.3 265.6 1472.3 273.2 1472.3C278.2 1472.3 283.2 1475.6 288.2 1475.6C296.6 1475.6 305 1473.9 313.3 1472.3C319.2 1471.3 325 1467.3 330.9 1467.3C337.6 1467.3 344.3 1468.6 351 1468.6C359.3 1468.6 367.7 1466.1 376.1 1466.1C384.4 1466.1 392.8 1467.3 401.2 1467.3C408.7 1467.3 416.2 1466.3 423.7 1464.8C427.9 1464 432.1 1461.4 436.3 1458.5C439.2 1456.5 442.1 1454.2 445.1 1449.7C446.8 1447.2 448.4 1440.2 450.1 1435.9C451.4 1432.8 452.6 1428.7 453.9 1427.2C454.9 1426 455.9 1424.7 456.9 1424.7C458 1424.7 459 1426.7 460.1 1428.4C461.8 1431 463.5 1437.2 465.2 1441C467.2 1445.6 469.3 1450.7 471.4 1453.5C473.9 1456.9 476.4 1459.8 479 1461C481.5 1462.3 484 1463.6 486.5 1463.6C489.8 1463.6 493.2 1462.9 496.5 1462.3C501.5 1461.4 506.6 1459.1 511.6 1457.3C516.6 1455.5 521.6 1451.5 526.6 1451.5C530.8 1451.5 535 1452.3 539.2 1452.3C545.9 1452.3 552.6 1449 559.3 1449C565.1 1449 571 1452.3 576.8 1452.3C581 1452.3 585.2 1452.3 589.4 1452.3C593.6 1452.3 597.7 1452.6 601.9 1453C608 1453.6 614 1457.9 620 1459.8C620.9 1460.1 621.7 1460.4 622.6 1460.5C627.6 1461.5 632.6 1462.3 637.6 1462.3C646 1462.3 654.4 1462.3 662.7 1462.3C669.4 1462.3 676.1 1462.6 682.8 1462.8"/>
<path d="M730.5 1459C737.2 1458.6 743.9 1458 750.6 1457.3C757.3 1456.6 764 1456.1 770.7 1454.8C775.7 1453.8 780.7 1450 785.7 1448.5C789.9 1447.2 794.1 1445.5 798.3 1445.5C801.6 1445.5 805 1447.2 808.3 1447.2C814.2 1447.2 820 1446.5 825.9 1446C830.1 1445.6 834.2 1445.4 838.4 1444.7C842.6 1444.1 846.8 1441.7 851 1439.7C855.1 1437.7 859.3 1435.3 863.5 1432.2C867.7 1429 871.9 1425.2 876.1 1419.6C878.6 1416.3 881.1 1412 883.6 1405.8C885.7 1400.7 887.8 1392.1 889.9 1383.2C892 1374.3 894 1363.2 896.1 1350.6C897.8 1340.6 899.5 1327.6 901.2 1315.5C902.8 1303.4 904.5 1289.6 906.2 1277.8C907.4 1269 908.7 1260.2 909.9 1252.7C911 1246.3 912.1 1237 913.2 1235.2C914 1233.8 914.9 1232.7 915.7 1232.7C916.7 1232.7 917.7 1233.3 918.7 1233.9C920.2 1234.8 921.7 1237.7 923.2 1238.9C924.7 1237.1 926.1 1232.9 927.5 1231.4C928.6 1230.3 929.7 1228.9 930.8 1228.9C931.6 1228.9 932.4 1230.7 933.3 1232.7C934.1 1234.7 935 1242.4 935.8 1247.7C936.8 1254.1 937.8 1261.4 938.8 1267.8C940.1 1275.7 941.3 1283.9 942.6 1290.4C944.2 1299 945.9 1306.7 947.6 1313C949.7 1320.8 951.8 1326.9 953.9 1333.1C956.4 1340.4 958.9 1348 961.4 1353.1C963.9 1358.3 966.4 1362.5 968.9 1365.7C972.3 1369.9 975.6 1373.9 979 1375.7C982.3 1377.5 985.6 1379.5 989 1379.5C992.3 1379.5 995.7 1379.5 999 1379.5C1000.9 1379.5 1002.7 1377 1004.6 1377C1006.9 1377 1009.2 1378.7 1011.6 1378.7C1016.6 1378.7 1021.6 1377.4 1026.6 1376.2C1030.8 1375.2 1035 1373.1 1039.2 1370.7C1043.4 1368.3 1047.6 1365.1 1051.7 1360.7C1055.9 1356.2 1060.1 1348 1064.3 1340.6C1068.5 1333.1 1072.7 1324.2 1076.8 1315.5C1081 1306.7 1085.2 1296.6 1089.4 1287.9C1093.6 1279.1 1097.7 1269.2 1101.9 1262.8C1105.3 1257.7 1108.6 1253.1 1112 1250.2C1113.8 1248.6 1115.7 1247 1117.6 1246.5C1120.1 1245.8 1122.6 1245.2 1125.1 1245.2C1127.2 1245.2 1129.3 1247.1 1131.4 1249C1133.5 1250.9 1135.6 1256.3 1137.6 1260.3C1140.2 1265 1142.7 1269.6 1145.2 1275.3C1147.7 1281.1 1150.2 1288.3 1152.7 1295.4C1155.2 1302.5 1157.7 1311.1 1160.2 1318C1163.6 1327.2 1166.9 1335.7 1170.3 1343.1C1173.6 1350.5 1177 1358 1180.3 1363.2C1183.7 1368.3 1187 1371.8 1190.3 1375.7C1193.7 1379.7 1197 1383.5 1200.4 1387C1203.7 1390.6 1207.1 1397 1210.4 1397C1213.8 1397 1217.1 1397 1220.5 1397C1221.7 1397 1223 1398.3 1224.2 1399.6C1225.5 1400.9 1226.7 1406 1228 1408.3C1229.7 1411.4 1231.3 1415.9 1233 1415.9C1234.3 1415.9 1235.5 1415.9 1236.8 1415.9C1238.4 1415.9 1240.1 1413.1 1241.8 1410.8C1243.1 1409.1 1244.3 1403.3 1245.6 1403.3C1247.2 1403.3 1248.9 1404.6 1250.6 1404.6C1252.3 1404.6 1253.9 1404.2 1255.6 1403.3C1256.4 1402.9 1257.3 1396.7 1258.1 1390.8C1258.9 1384.9 1259.8 1370.7 1260.6 1360.7C1261.5 1350.6 1262.3 1336.4 1263.1 1330.5C1264 1324.6 1264.8 1321.1 1265.6 1318C1266.5 1321.1 1267.3 1324.4 1268.1 1330.5C1269 1336.7 1269.8 1354 1270.7 1365.7C1271.5 1377.4 1272.3 1393 1273.2 1400.8C1274 1408.6 1274.8 1416.2 1275.7 1418.4C1277.3 1422.8 1279 1425.9 1280.7 1425.9C1282.4 1425.9 1284 1425.9 1285.7 1425.9C1287 1425.9 1288.2 1421.7 1289.5 1418.4C1290.7 1415 1292 1406.3 1293.2 1403.3C1294.5 1400.4 1295.8 1398.6 1297 1397C1298.3 1399.2 1299.5 1401.9 1300.8 1405.8C1302 1409.7 1303.3 1418.8 1304.5 1423.4C1305.8 1428 1307 1433.6 1308.3 1434.7C1310 1436.2 1311.6 1437.2 1313.3 1437.2C1315 1437.2 1316.7 1433.7 1318.3 1430.9C1319.6 1428.9 1320.8 1422.1 1322.1 1422.1C1322.9 1422.1 1323.8 1422.1 1324.6 1422.1C1325.9 1422.1 1327.1 1425.6 1328.4 1428.4C1329.6 1431.2 1330.9 1438.7 1332.1 1441C1334.2 1444.8 1336.3 1446.5 1338.4 1448.5C1341.8 1451.6 1345.1 1454.4 1348.5 1456C1351.8 1457.7 1355.1 1459.8 1358.5 1459.8C1362.7 1459.8 1366.9 1456 1371 1456C1372.7 1456 1374.4 1459.9 1376.1 1461C1380.2 1464 1384.4 1466.1 1388.6 1467.3C1392.8 1468.5 1397 1469.8 1401.2 1469.8C1409.5 1469.8 1417.9 1468.6 1426.3 1468.6C1429.6 1468.6 1432.9 1469.8 1436.3 1469.8C1438 1469.8 1439.6 1467.3 1441.3 1467.3C1443 1467.3 1444.7 1470.1 1446.3 1471.1C1449.7 1473.1 1453 1476.1 1456.4 1476.1C1459.7 1476.1 1463.1 1475 1466.4 1474.1C1468.9 1473.4 1471.4 1470.9 1473.9 1470.6C1477.3 1470.1 1480.6 1470.3 1484 1469.8C1486.1 1469.5 1488.2 1467.3 1490.3 1467.3C1492.3 1467.3 1494.4 1470.4 1496.5 1471.1C1498.2 1471.7 1499.9 1472.3 1501.5 1472.3C1504.9 1472.3 1508.2 1469.2 1511.6 1468.1C1515.8 1466.7 1519.9 1466.8 1524.1 1464.8C1526.2 1463.8 1528.3 1460.9 1530.4 1456C1531.7 1453.1 1532.9 1443.7 1534.2 1435.9C1535.4 1428.2 1536.7 1414 1537.9 1408.3C1538.9 1403.8 1539.9 1400.8 1540.9 1398.3C1542 1401.4 1543.1 1405 1544.2 1410.8C1545.5 1417.6 1546.7 1437.5 1548 1446C1549.2 1454.5 1550.5 1463.9 1551.7 1466.1C1553.4 1469 1555.1 1471.1 1556.8 1471.1C1559.3 1471.1 1561.8 1471.1 1564.3 1471.1C1566.8 1471.1 1569.3 1466.8 1571.8 1464.8C1573.5 1463.5 1575.2 1461 1576.8 1461C1578.5 1461 1580.2 1464.5 1581.9 1466.1C1584.4 1468.4 1586.9 1471.2 1589.4 1472.3C1593.6 1474.3 1597.7 1476.1 1601.9 1476.1C1608 1476.1 1614 1475.1 1620 1473.6C1623.3 1472.8 1626.7 1467.8 1630 1466.1C1632.5 1464.8 1635 1463.1 1637.5 1463.1C1639.6 1463.1 1641.7 1465.4 1643.8 1466.1C1645.5 1466.6 1647.1 1467.3 1648.8 1467.3C1650.5 1467.3 1652.1 1461.1 1653.8 1458.5C1655.3 1456.2 1656.8 1452.3 1658.3 1452.3C1659.8 1452.3 1661.2 1454.5 1662.6 1456C1664.7 1458.3 1666.8 1462.1 1668.9 1464.8C1671.4 1468.1 1673.9 1474.1 1676.4 1474.1C1678.9 1474.1 1681.4 1470.6 1683.9 1469.8C1688.1 1468.5 1692.3 1468.1 1696.5 1467.3C1699.8 1466.7 1703.2 1465.6 1706.5 1465.6C1709.9 1465.6 1713.2 1468.6 1716.6 1469.8C1719.9 1471.1 1723.3 1472.8 1726.6 1473.1C1729.9 1473.4 1733.3 1473.6 1736.6 1473.6C1741.7 1473.6 1746.7 1471.8 1751.7 1471.6C1758.4 1471.3 1765.1 1471.4 1771.8 1471.1C1775.1 1470.9 1778.5 1468.6 1781.8 1467.3C1783.9 1466.5 1786 1464.8 1788.1 1464.8C1789.3 1464.8 1790.6 1468.1 1791.8 1468.1C1796 1468.1 1800.2 1467.1 1804.4 1466.1C1807.7 1465.2 1811.1 1462.7 1814.4 1461C1816.9 1459.8 1819.5 1458.1 1822 1457.3C1824.5 1456.5 1827 1455.5 1829.5 1455.5C1832.8 1455.5 1836.2 1460.7 1839.5 1461C1842 1461.3 1844.6 1461.5 1847.1 1461.5C1849.6 1461.5 1852.1 1459 1854.6 1459C1857.1 1459 1859.6 1459 1862.1 1459C1864.6 1459 1867.1 1462 1869.6 1463.6C1871.7 1464.8 1873.8 1467.3 1875.9 1467.3C1881.4 1467.3 1886.8 1467.3 1892.2 1467.3C1896.4 1467.3 1900.6 1468 1904.8 1468.6C1909 1469.2 1913.1 1471.6 1917.3 1471.6C1923.2 1471.6 1929 1471.1 1934.9 1471.1C1940.8 1471.1 1946.6 1473.1 1952.5 1473.1C1957.5 1473.1 1962.5 1472.8 1967.5 1472.3C1971.3 1472 1975.1 1469.8 1978.8 1469.8C1980.9 1469.8 1983 1471.8 1985.1 1472.3C1987.2 1472.9 1989.3 1473.4 1991.4 1473.6"/>
<path d="M126.1 1540.1C134.1 1540.9 142.2 1541.4 150.2 1541.4C158.6 1541.4 166.9 1540.7 175.3 1540.1C179.5 1539.8 183.7 1538.8 187.8 1538.8C193.7 1538.8 199.5 1542.6 205.4 1542.6C212.1 1542.6 218.8 1540.9 225.5 1540.1C228.8 1539.7 232.2 1538.8 235.5 1538.8C240.5 1538.8 245.6 1541.4 250.6 1541.4C257.3 1541.4 264 1540.1 270.7 1540.1C276.5 1540.1 282.4 1543.4 288.2 1543.4C296.6 1543.4 305 1541 313.3 1540.1C321.7 1539.2 330.1 1538.4 338.4 1537.6C351 1536.4 363.5 1534.3 376.1 1534.3C384.4 1534.3 392.8 1535.8 401.2 1535.8C408.7 1535.8 416.2 1535.2 423.7 1534.3C427.9 1533.8 432.1 1532 436.3 1530.1C439.6 1528.5 443 1525.7 446.3 1522.5C448.4 1520.6 450.5 1516 452.6 1515C454 1514.4 455.5 1513.7 456.9 1513.7C458.4 1513.7 459.9 1515.2 461.4 1516.3C463.9 1518.1 466.4 1523 468.9 1525C472.3 1527.8 475.6 1530.6 479 1531.3C482.3 1532 485.6 1532.6 489 1532.6C494.9 1532.6 500.7 1530.2 506.6 1528.8C513.3 1527.3 519.9 1523.8 526.6 1523.8C531.7 1523.8 536.7 1524.3 541.7 1524.3C547.6 1524.3 553.4 1521.3 559.3 1521.3C565.1 1521.3 571 1523.3 576.8 1523.3C581.9 1523.3 586.9 1523.3 591.9 1523.3C596.9 1523.3 601.9 1524.2 606.9 1525C611.3 1525.8 615.6 1528.8 620 1528.8C623.4 1528.8 626.7 1528.8 630.1 1528.8C634.3 1528.8 638.5 1529.8 642.7 1530.1C646.8 1530.3 651 1530.6 655.2 1530.6C660.2 1530.6 665.3 1529.3 670.3 1529.3C674.5 1529.3 678.6 1529.9 682.8 1530.8"/>
<path d="M730.5 1531.8C737.2 1531.7 743.9 1531.3 750.6 1530.8C757.3 1530.3 764 1529.4 770.7 1528.3C775.7 1527.5 780.7 1526.2 785.7 1525C790.3 1524 794.9 1521.8 799.5 1521.8C801.6 1521.8 803.7 1523.8 805.8 1523.8C812.5 1523.8 819.2 1523.1 825.9 1522.5C830.1 1522.2 834.2 1521.6 838.4 1520.8C842.6 1519.9 846.8 1518 851 1516.3C855.1 1514.5 859.3 1512.6 863.5 1510C867.7 1507.4 871.9 1504.5 876.1 1499.9C879 1496.8 881.9 1492.4 884.8 1486.1C886.9 1481.6 889 1473.5 891.1 1466.1C893.2 1458.6 895.3 1450.3 897.4 1441C899.1 1433.5 900.7 1424.2 902.4 1415.9C904.1 1407.5 905.8 1397.7 907.4 1390.8C909.1 1383.9 910.8 1375.5 912.5 1373.2C913.9 1371.2 915.3 1369.4 916.7 1369.4C918.6 1369.4 920.6 1371.9 922.5 1371.9C924.6 1371.9 926.7 1369.4 928.8 1369.4C930.3 1369.4 931.8 1371.1 933.3 1373.2C934.7 1375.2 936.1 1385.4 937.5 1390.8C939.2 1397.1 940.9 1403.1 942.6 1408.3C944.7 1414.9 946.8 1421 948.8 1425.9C951.4 1431.8 953.9 1437.1 956.4 1441C959.7 1446.2 963.1 1450.1 966.4 1453.5C969.8 1457 973.1 1460.4 976.4 1462.3C980.6 1464.6 984.8 1467.3 989 1467.3C993.2 1467.3 997.4 1466.1 1001.5 1466.1C1004.5 1466.1 1007.4 1468.1 1010.3 1468.1C1015.8 1468.1 1021.2 1466.8 1026.6 1465.6C1030.8 1464.6 1035 1462.2 1039.2 1459.8C1043.4 1457.3 1047.6 1453.6 1051.7 1449.7C1055.9 1445.9 1060.1 1441.1 1064.3 1435.9C1068.5 1430.8 1072.7 1424.6 1076.8 1418.4C1081 1412.1 1085.2 1404.5 1089.4 1398.3C1093.6 1392.1 1097.7 1385.2 1101.9 1380.7C1105.3 1377.2 1108.6 1373.7 1112 1371.9C1113 1371.4 1114 1371 1115.1 1370.7C1117.6 1369.9 1120.1 1368.7 1122.6 1368.7C1125.1 1368.7 1127.6 1369.6 1130.1 1370.7C1132.6 1371.8 1135.1 1376.7 1137.6 1380.7C1140.2 1384.7 1142.7 1390.4 1145.2 1395.8C1147.7 1401.2 1150.2 1407.9 1152.7 1413.4C1156 1420.6 1159.4 1427.2 1162.7 1433.4C1166.1 1439.7 1169.4 1446.1 1172.8 1451C1176.1 1455.9 1179.5 1460.3 1182.8 1463.6C1187 1467.7 1191.2 1470.5 1195.4 1473.6C1199.5 1476.7 1203.7 1480.6 1207.9 1482.4C1212.1 1484.1 1216.3 1484.2 1220.5 1486.1C1222.1 1486.9 1223.8 1488.3 1225.5 1489.9C1227.2 1491.5 1228.8 1495.3 1230.5 1496.2C1232.6 1497.3 1234.7 1498.2 1236.8 1498.2C1238.4 1498.2 1240.1 1496.2 1241.8 1494.9C1243.5 1493.6 1245.1 1489.9 1246.8 1489.9C1248.5 1489.9 1250.2 1492.4 1251.8 1492.4C1253.1 1492.4 1254.3 1492.4 1255.6 1492.4C1256.6 1492.4 1257.6 1487.4 1258.6 1483.6C1259.7 1479.5 1260.8 1471 1261.9 1466.1C1262.7 1462.2 1263.5 1457 1264.4 1456C1265 1455.3 1265.6 1454.8 1266.1 1454.8C1267 1454.8 1267.8 1458 1268.6 1461C1269.7 1465.1 1270.8 1479.8 1271.9 1486.1C1273.2 1493.5 1274.4 1501.8 1275.7 1503.7C1277.3 1506.3 1279 1508.2 1280.7 1508.2C1282.4 1508.2 1284 1507.5 1285.7 1506.7C1287.4 1505.9 1289.1 1502.2 1290.7 1499.9C1292 1498.3 1293.2 1495.8 1294.5 1494.9C1295.3 1494.3 1296.2 1493.7 1297 1493.7C1298.3 1493.7 1299.5 1497.6 1300.8 1499.9C1302.4 1503.1 1304.1 1509.4 1305.8 1511.2C1307.9 1513.6 1310 1515.8 1312.1 1515.8C1314.2 1515.8 1316.2 1512.5 1318.3 1511.2C1320 1510.3 1321.7 1508.7 1323.4 1508.7C1325 1508.7 1326.7 1510.9 1328.4 1512.5C1330.1 1514.1 1331.7 1517.7 1333.4 1518.8C1337.6 1521.5 1341.8 1522.3 1345.9 1523.8C1350.1 1525.2 1354.3 1527.5 1358.5 1527.5C1362.7 1527.5 1366.9 1527.5 1371 1527.5C1374.4 1527.5 1377.7 1530.3 1381.1 1531.3C1387.8 1533.4 1394.5 1535.8 1401.2 1536.3C1409.5 1537 1417.9 1537.6 1426.3 1537.6C1431.3 1537.6 1436.3 1536.8 1441.3 1536.8C1444.7 1536.8 1448 1540.8 1451.4 1541.4C1453 1541.6 1454.7 1541.9 1456.4 1541.9C1463.1 1541.9 1469.8 1539.8 1476.4 1538.8C1481.5 1538.1 1486.5 1536.8 1491.5 1536.8C1494.9 1536.8 1498.2 1538.8 1501.5 1538.8C1505.7 1538.8 1509.9 1538.1 1514.1 1537.6C1518.3 1537 1522.5 1536.7 1526.6 1535.1C1528.3 1534.4 1530 1531.9 1531.7 1528.8C1533.2 1526 1534.7 1518 1536.2 1513.7C1537.2 1510.9 1538.2 1507.2 1539.2 1506.2C1539.9 1505.6 1540.5 1505 1541.2 1505C1542 1505 1542.9 1508.5 1543.7 1511.2C1544.9 1515.1 1546 1525.5 1547.2 1528.8C1548.7 1533.1 1550.2 1536.9 1551.7 1537.6C1554.2 1538.7 1556.8 1539.3 1559.3 1539.3C1561.8 1539.3 1564.3 1538.8 1566.8 1538.3C1569.7 1537.8 1572.7 1535.1 1575.6 1535.1C1577.7 1535.1 1579.8 1536.8 1581.9 1537.6C1585.2 1538.8 1588.5 1540.4 1591.9 1540.8C1596.1 1541.4 1600.3 1541.9 1604.4 1541.9C1609.6 1541.9 1614.8 1540.8 1620 1540.1C1624.6 1539.5 1629.2 1538.3 1633.7 1537.6C1636.7 1537.1 1639.6 1536.3 1642.5 1536.3C1644.2 1536.3 1645.9 1537.6 1647.5 1537.6C1649.6 1537.6 1651.7 1533.3 1653.8 1532.6C1655.5 1531.9 1657.2 1531.3 1658.8 1531.3C1660.9 1531.3 1663 1533.8 1665.1 1535.1C1667.2 1536.3 1669.3 1537.7 1671.4 1538.8C1673.5 1540 1675.6 1541.9 1677.7 1541.9C1681.4 1541.9 1685.2 1538.9 1689 1538.3C1694 1537.6 1699 1536.8 1704 1536.8C1708.2 1536.8 1712.4 1538.1 1716.6 1538.8C1720.7 1539.6 1724.9 1541.4 1729.1 1541.4C1735 1541.4 1740.8 1540.1 1746.7 1540.1C1753.4 1540.1 1760.1 1540.8 1766.8 1540.8C1772.6 1540.8 1778.5 1539.4 1784.3 1538.8C1790.2 1538.3 1796 1538.3 1801.9 1537.6C1805.2 1537.2 1808.6 1535.3 1811.9 1534.3C1815.3 1533.4 1818.6 1531.8 1822 1531.8C1825.3 1531.8 1828.7 1531.8 1832 1531.8C1834.5 1531.8 1837 1534.3 1839.5 1534.3C1842 1534.3 1844.6 1534.3 1847.1 1534.3C1851.2 1534.3 1855.4 1532.6 1859.6 1532.6C1863 1532.6 1866.3 1534.1 1869.6 1535.1C1873 1536 1876.3 1538.3 1879.7 1538.3C1885.5 1538.3 1891.4 1537.6 1897.3 1537.6C1905.6 1537.6 1914 1540.1 1922.4 1540.1C1929 1540.1 1935.7 1539.3 1942.4 1539.3C1948.3 1539.3 1954.1 1540.8 1960 1540.8C1964.2 1540.8 1968.4 1538.3 1972.5 1538.3C1978.8 1538.3 1985.1 1538.4 1991.4 1540.1"/>
<path d="M126.1 1608.1C142.5 1608.4 158.9 1608.8 175.3 1609.1C192 1609.4 208.8 1609.7 225.5 1610.1C238 1610.4 250.6 1610.7 263.1 1611.1C271.5 1611.4 279.9 1612.1 288.2 1612.1C296.6 1612.1 305 1610.7 313.3 1610.1C321.7 1609.5 330.1 1609.1 338.4 1608.6C351 1607.9 363.5 1606.9 376.1 1606.9C384.4 1606.9 392.8 1607.9 401.2 1608.1C408.7 1608.3 416.2 1608.6 423.7 1608.6C428.8 1608.6 433.8 1607.4 438.8 1606.1C442.1 1605.3 445.5 1602.8 448.8 1601.6C450.9 1600.8 453 1599.6 455.1 1599.6C457.2 1599.6 459.3 1600.9 461.4 1601.6C464.7 1602.7 468.1 1604.5 471.4 1605.3C475.6 1606.5 479.8 1607.9 484 1607.9C489.8 1607.9 495.7 1606.8 501.5 1606.1C509.9 1605.2 518.3 1603.6 526.6 1602.8C535 1602.1 543.4 1601.1 551.7 1601.1C560.1 1601.1 568.5 1601.1 576.8 1601.1C585.2 1601.1 593.6 1601.6 601.9 1602.1C608 1602.4 614 1603.6 620 1603.6C621.7 1603.6 623.4 1603.6 625.1 1603.6C631.8 1603.6 638.5 1605.3 645.2 1605.3C647.7 1605.3 650.2 1602.8 652.7 1602.8C655.2 1602.8 657.7 1604 660.2 1604.1C667.8 1604.4 675.3 1604.6 682.8 1604.6"/>
<path d="M730.5 1600.3C737.2 1599.8 743.9 1599.2 750.6 1598.6C757.3 1597.9 764 1597.4 770.7 1596.6C776.5 1595.9 782.4 1594.7 788.2 1594.1C792.4 1593.6 796.6 1592.8 800.8 1592.8C803.3 1592.8 805.8 1594.6 808.3 1594.6C814.2 1594.6 820 1594 825.9 1593.6C830.1 1593.2 834.2 1592.7 838.4 1592C842.6 1591.4 846.8 1590.6 851 1589.5C855.1 1588.5 859.3 1587.1 863.5 1585.3C867.7 1583.5 871.9 1581.1 876.1 1577.7C879.4 1575.1 882.8 1571.6 886.1 1566.4C888.6 1562.6 891.1 1555.3 893.6 1548.9C895.7 1543.5 897.8 1537.6 899.9 1531.3C902 1525.1 904.1 1517 906.2 1511.2C908.3 1505.5 910.4 1498.8 912.5 1496.2C914.4 1493.7 916.3 1491.2 918.2 1491.2C920.1 1491.2 921.9 1491.9 923.7 1492.4C925.8 1493 927.9 1493.6 930 1494.9C931.7 1496 933.4 1498.5 935 1501.2C937.1 1504.6 939.2 1512.1 941.3 1516.3C943.8 1521.2 946.3 1525.2 948.8 1528.8C952.2 1533.6 955.5 1538.2 958.9 1541.4C962.2 1544.5 965.6 1547.4 968.9 1548.9C973.1 1550.7 977.3 1552.6 981.5 1552.6C988.2 1552.6 994.9 1552.6 1001.5 1552.6C1004.5 1552.6 1007.4 1553.9 1010.3 1553.9C1015.8 1553.9 1021.2 1552.5 1026.6 1551.4C1030.8 1550.5 1035 1549.3 1039.2 1547.6C1043.4 1546 1047.6 1543.1 1051.7 1540.1C1055.9 1537.1 1060.1 1532.8 1064.3 1528.8C1068.5 1524.8 1072.7 1520.4 1076.8 1516.3C1081 1512.1 1085.2 1507.4 1089.4 1503.7C1093.6 1500 1097.7 1496.2 1101.9 1493.7C1105.3 1491.6 1108.6 1489.6 1112 1488.6C1115.1 1487.8 1118.2 1486.9 1121.3 1486.9C1124.3 1486.9 1127.2 1488.4 1130.1 1489.9C1133.5 1491.6 1136.8 1496.1 1140.2 1499.9C1143.5 1503.8 1146.8 1509.1 1150.2 1513.7C1154.4 1519.5 1158.6 1525.9 1162.7 1531.3C1166.9 1536.7 1171.1 1542.7 1175.3 1546.4C1179.5 1550.1 1183.7 1552.2 1187.8 1555.2C1192 1558.1 1196.2 1561.5 1200.4 1563.9C1204.6 1566.4 1208.8 1568.8 1212.9 1570.2C1216.3 1571.3 1219.6 1571.4 1223 1572.7C1225.5 1573.7 1228 1577.6 1230.5 1578.5C1233 1579.4 1235.5 1580.3 1238 1580.3C1241.4 1580.3 1244.7 1578.5 1248.1 1578.5C1250.6 1578.5 1253.1 1580.3 1255.6 1580.3C1256.9 1580.3 1258.1 1578.2 1259.4 1576.5C1260.6 1574.8 1261.9 1570.4 1263.1 1569C1264 1568 1264.8 1566.9 1265.6 1566.9C1266.6 1566.9 1267.6 1567.9 1268.6 1569C1270.2 1570.5 1271.7 1577.7 1273.2 1580.3C1274.8 1583.1 1276.5 1586 1278.2 1586.5C1280.7 1587.3 1283.2 1587.8 1285.7 1587.8C1288.2 1587.8 1290.7 1585 1293.2 1584.5C1294.5 1584.3 1295.8 1584 1297 1584C1298.7 1584 1300.4 1586.6 1302 1587.8C1304.1 1589.3 1306.2 1591.7 1308.3 1592C1310.8 1592.5 1313.3 1592.8 1315.8 1592.8C1318.3 1592.8 1320.8 1591.5 1323.4 1591.5C1326.7 1591.5 1330.1 1594.4 1333.4 1595.3C1339.3 1596.9 1345.1 1597.9 1351 1599.1C1359.3 1600.7 1367.7 1602.4 1376.1 1603.6C1384.4 1604.8 1392.8 1606 1401.2 1606.6C1409.5 1607.2 1417.9 1607.4 1426.3 1607.9C1434.6 1608.3 1443 1609.6 1451.4 1609.6C1459.7 1609.6 1468.1 1609.3 1476.4 1609.1C1484.8 1608.9 1493.2 1608.8 1501.5 1608.6C1509.1 1608.4 1516.6 1608.4 1524.1 1607.9C1526.2 1607.7 1528.3 1606.6 1530.4 1605.3C1532.5 1604.1 1534.6 1599.6 1536.7 1597.8C1537.9 1596.8 1539.2 1595.3 1540.4 1595.3C1541.7 1595.3 1543 1597.2 1544.2 1598.6C1545.9 1600.4 1547.6 1605.3 1549.2 1606.6C1550.9 1607.9 1552.6 1609.1 1554.2 1609.1C1561.8 1609.1 1569.3 1607.9 1576.8 1607.9C1581.9 1607.9 1586.9 1609.1 1591.9 1609.6C1596.9 1610.2 1601.9 1611.1 1606.9 1611.1C1611.3 1611.1 1615.6 1610.2 1620 1609.6C1622.1 1609.3 1624.1 1608.9 1626.2 1608.6C1632.1 1607.9 1637.9 1607.5 1643.8 1607.1C1646.3 1606.9 1648.8 1606.9 1651.3 1606.6C1653.4 1606.4 1655.5 1604.6 1657.6 1604.6C1659.3 1604.6 1660.9 1605.9 1662.6 1606.6C1664.7 1607.4 1666.8 1609.1 1668.9 1609.1C1673.9 1609.1 1678.9 1608.8 1683.9 1608.6C1689.8 1608.3 1695.6 1607.1 1701.5 1607.1C1708.2 1607.1 1714.9 1608.1 1721.6 1608.6C1726.6 1609 1731.6 1609.6 1736.6 1609.6C1744.2 1609.6 1751.7 1608.9 1759.2 1608.6C1765.9 1608.3 1772.6 1608.3 1779.3 1607.9C1785.2 1607.5 1791 1606.3 1796.9 1605.3C1801.9 1604.6 1806.9 1603.3 1811.9 1602.8C1817.8 1602.2 1823.6 1601.6 1829.5 1601.6C1835.4 1601.6 1841.2 1602.8 1847.1 1602.8C1851.2 1602.8 1855.4 1602.1 1859.6 1602.1C1863.8 1602.1 1868 1603.9 1872.2 1604.1C1880.5 1604.4 1888.9 1604.3 1897.3 1604.6C1905.6 1604.9 1914 1607.9 1922.4 1607.9C1930.7 1607.9 1939.1 1607.9 1947.4 1607.9C1955.8 1607.9 1964.2 1608.6 1972.5 1608.6C1978.8 1608.6 1985.1 1608.3 1991.4 1607.9"/>
</g>
<text class="n" font-size="57"><tspan x="302.53" y="1703.60" textLength="106.58" lengthAdjust="spacingAndGlyphs">3200</tspan></text>
<text class="n" font-size="57"><tspan x="789.96" y="1703.60" textLength="106.16" lengthAdjust="spacingAndGlyphs">1700</tspan></text>
<text class="n" font-size="57"><tspan x="1172.42" y="1703.60" textLength="105.31" lengthAdjust="spacingAndGlyphs">1200</tspan></text>
<text class="n" font-size="57"><tspan x="1570.80" y="1703.60" textLength="77.76" lengthAdjust="spacingAndGlyphs">700</tspan></text>
<text class="n" font-size="57"><tspan x="1907.72" y="1703.60" textLength="79.81" lengthAdjust="spacingAndGlyphs">200</tspan></text>
<text class="n" font-size="52.5"><tspan x="429.99" y="117.90" textLength="91.55" lengthAdjust="spacingAndGlyphs">1.10</tspan></text>
<text class="n" font-size="52.5"><tspan x="428.20" y="382.90" textLength="93.38" lengthAdjust="spacingAndGlyphs">0.60</tspan></text>
<text class="b" font-size="64.5"><tspan x="381.29" y="534.80" textLength="132.83" lengthAdjust="spacingAndGlyphs">3069</tspan></text>
<text class="b" font-size="64.5"><tspan x="779.03" y="534.80" textLength="132.82" lengthAdjust="spacingAndGlyphs">1607</tspan></text>
<text class="b" font-size="64.5"><tspan x="944.26" y="534.80" textLength="135.27" lengthAdjust="spacingAndGlyphs">1586</tspan></text>
<text class="b" font-size="64.5"><tspan x="1276.29" y="535.70" textLength="134.57" lengthAdjust="spacingAndGlyphs">1206</tspan></text>
<text class="b" font-size="64.5"><tspan x="1492.56" y="535.70" textLength="99.47" lengthAdjust="spacingAndGlyphs">791</tspan></text>
<text class="b" font-size="64.5"><tspan x="751.78" y="964.10" textLength="133.61" lengthAdjust="spacingAndGlyphs">1590</tspan></text>
<text class="b" font-size="64.5"><tspan x="1183.29" y="964.10" textLength="133.63" lengthAdjust="spacingAndGlyphs">1337</tspan></text>
<text class="t" font-size="69"><tspan x="157.84" y="837.00" textLength="47.97" lengthAdjust="spacingAndGlyphs">A</tspan></text>
<text class="t" font-size="69"><tspan x="155.26" y="1176.00" textLength="46.41" lengthAdjust="spacingAndGlyphs">B</tspan></text>
<text class="t" font-size="69"><tspan x="155.00" y="1365.00" textLength="49.83" lengthAdjust="spacingAndGlyphs">C</tspan></text>
<text class="t" font-size="69"><tspan x="157.00" y="1457.00" textLength="49.83" lengthAdjust="spacingAndGlyphs">D</tspan></text>
<text class="t" font-size="69"><tspan x="155.00" y="1530.00" textLength="46.02" lengthAdjust="spacingAndGlyphs">E</tspan></text>
<text class="t" font-size="69"><tspan x="155.00" y="1600.00" textLength="42.15" lengthAdjust="spacingAndGlyphs">F</tspan></text>
<text class="t" font-size="69"><tspan x="652.40" y="434.00" textLength="46.26" lengthAdjust="spacingAndGlyphs">B</tspan></text>
<text class="t" font-size="69"><tspan x="843.02" y="434.00" textLength="52.72" lengthAdjust="spacingAndGlyphs">C</tspan></text>
<text class="t" font-size="69"><tspan x="1035.92" y="434.00" textLength="49.53" lengthAdjust="spacingAndGlyphs">D</tspan></text>
<text class="t" font-size="69"><tspan x="1229.04" y="434.00" textLength="44.63" lengthAdjust="spacingAndGlyphs">E</tspan></text>
<text class="t" font-size="69"><tspan x="1448.31" y="434.00" textLength="45.20" lengthAdjust="spacingAndGlyphs">F</tspan></text>
<text class="t" font-size="53.5"><tspan x="848.11" y="1774.50" textLength="155.17" lengthAdjust="spacingAndGlyphs">Raman</tspan> <tspan x="1026.26" y="1774.50" textLength="99.87" lengthAdjust="spacingAndGlyphs">Shift</tspan> <tspan x="1149.65" y="1774.50" textLength="75.88" lengthAdjust="spacingAndGlyphs">[cm</tspan><tspan x="1231.50" y="1755.50" textLength="27.74" lengthAdjust="spacingAndGlyphs" font-size="37">-1</tspan><tspan x="1261.70" y="1774.50" textLength="16.03" lengthAdjust="spacingAndGlyphs">]</tspan></text>
<text class="t" font-size="53.5" transform="rotate(-90)"><tspan x="-1254.82" y="91.00" textLength="157.57" lengthAdjust="spacingAndGlyphs">Raman</tspan> <tspan x="-1073.97" y="91.00" textLength="194.46" lengthAdjust="spacingAndGlyphs">Intensity</tspan> <tspan x="-855.97" y="91.00" textLength="106.75" lengthAdjust="spacingAndGlyphs">[a.u.]</tspan></text>
<text class="t" font-size="55" transform="rotate(-90)"><tspan x="-288.54" y="412.00" textLength="22.59" lengthAdjust="spacingAndGlyphs">I</tspan><tspan x="-266.15" y="421.70" textLength="27.78" lengthAdjust="spacingAndGlyphs" font-size="39">D</tspan> <tspan x="-231.66" y="412.00" textLength="16.44" lengthAdjust="spacingAndGlyphs" font-weight="normal">/</tspan> <tspan x="-203.41" y="412.00" textLength="19.28" lengthAdjust="spacingAndGlyphs">I</tspan><tspan x="-183.30" y="421.70" textLength="30.34" lengthAdjust="spacingAndGlyphs" font-size="39">G</tspan></text>
</g></svg></body></html>
